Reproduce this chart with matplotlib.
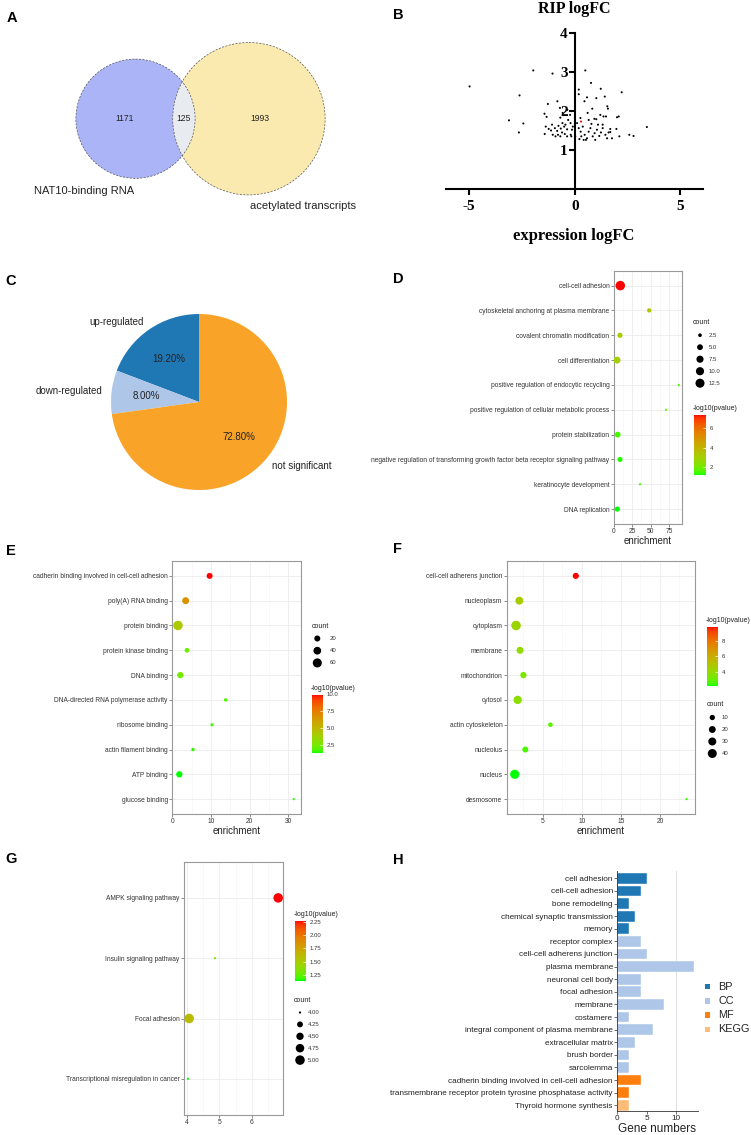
import numpy as np
import matplotlib
matplotlib.use("Agg")
import matplotlib.pyplot as plt
from matplotlib.patches import Circle
from matplotlib.colors import ListedColormap, Normalize
from matplotlib.cm import ScalarMappable
from matplotlib.ticker import AutoMinorLocator

plt.rcParams["font.family"] = ["Liberation Sans", "DejaVu Sans"]
plt.rcParams["axes.unicode_minus"] = False

# ---- data ----
# A: venn
venn_sizes = [1171, 125, 1993]
venn_labels = ["NAT10-binding RNA", "acetylated transcripts"]

# B: RIP logFC vs expression logFC
rip_x = [-4.97, -1.96, -1.05, -2.61, -1.27, -3.11, -2.43, -2.64, -1.43, -1.33, -1.37, -1.42, -1.23,
         -0.82, -0.70, -1.07, -0.94, -1.12, -1.04, -0.83, -0.77, -0.66, -0.58, -0.50, -0.44, -0.36,
         -0.60, -0.47, -0.31, -0.20, -0.22, -0.35, -0.68, -0.57, -0.79, -0.36, -0.19, -0.91, -0.68,
         -0.13, -0.09, -0.16,
         0.11, 0.19, 0.28, 0.38, 0.47, 0.58, 0.66, 0.74, 0.85, 0.94, 1.05, 1.16, 1.24, 1.32, 1.45,
         1.53, 0.97, 0.42, 0.22, 0.53, 0.31, 0.79, 1.10, 1.60, 0.66,
         0.50, 0.77, 0.19, 0.19, 1.23, 2.22, 0.58, 1.02, 0.46, 1.42, 1.54, 1.57, 0.83, 0.61, 1.21,
         1.36, 1.48, 2.00, 2.08, 0.93, 1.02, 0.27, 3.41, 2.58, 2.78, 2.11, 1.76, 1.68, 1.68, 1.97,
         1.32]
rip_y = [2.63, 3.04, 2.96, 2.40, 2.18, 1.76, 1.68, 1.45, 1.93, 1.85, 1.60, 1.41, 1.54,
         2.25, 2.08, 1.65, 1.56, 1.50, 1.39, 1.49, 1.62, 1.55, 1.69, 1.60, 1.65, 1.53,
         1.45, 1.41, 1.77, 1.69, 1.90, 2.03, 1.83, 1.95, 1.39, 1.35, 1.39, 1.35, 1.35,
         1.52, 1.60, 1.35,
         1.69, 1.56, 1.47, 1.60, 1.39, 1.30, 1.47, 1.56, 1.35, 1.43, 1.52, 1.36, 1.45, 1.56, 1.39,
         1.30, 1.26, 1.26, 1.28, 1.26, 1.35, 1.67, 1.65, 1.45, 1.77,
         3.04, 2.72, 2.55, 2.43, 2.57, 2.48, 2.35, 2.33, 2.25, 2.37, 2.12, 2.06, 2.06, 1.95, 1.90,
         1.86, 1.86, 1.84, 1.86, 1.80, 1.79, 1.82, 1.59, 1.39, 1.36, 1.35, 1.30, 1.54, 1.46, 1.54,
         1.65]
rip_hl_x = [0.30, 0.03]
rip_hl_y = [1.73, 1.35]

# C: pie
pie_labels = ["up-regulated", "down-regulated", "not significant"]
pie_values = [19.2, 8.0, 72.8]
pie_colors = ["#1f77b4", "#aec7e8", "#f9a328"]

# D: GO BP bubble
d_terms = ["cell-cell adhesion", "cytoskeletal anchoring at plasma membrane",
           "covalent chromatin modification", "cell differentiation",
           "positive regulation of endocytic recycling",
           "positive regulation of cellular metabolic process", "protein stabilization",
           "negative regulation of transforming growth factor beta receptor signaling pathway",
           "keratinocyte development", "DNA replication"]
d_enrich = [8.9, 48.0, 8.5, 4.5, 88.0, 70.7, 5.4, 8.5, 35.5, 4.9]
d_count = [14, 3, 4, 7, 2, 2, 5, 4, 2, 4]
d_logp = [7.33, 3.4, 3.1, 3.0, 1.6, 1.75, 1.5, 1.35, 1.5, 1.21]

# E: GO MF bubble
e_terms = ["cadherin binding involved in cell-cell adhesion", "poly(A) RNA binding",
           "protein binding", "protein kinase binding", "DNA binding",
           "DNA-directed RNA polymerase activity", "ribosome binding",
           "actin filament binding", "ATP binding", "glucose binding"]
e_enrich = [9.65, 3.45, 1.47, 3.8, 2.07, 13.8, 10.26, 5.35, 1.81, 31.4]
e_count = [20, 30, 68, 10, 23, 4, 3, 4, 23, 2]
e_logp = [9.9, 6.6, 4.2, 2.3, 2.5, 1.8, 1.6, 1.5, 1.24, 1.4]

# F: GO CC bubble
f_terms = ["cell-cell adherens junction", "nucleoplasm", "cytoplasm", "membrane",
           "mitochondrion", "cytosol", "actin cytoskeleton", "nucleolus", "nucleus",
           "desmosome"]
f_enrich = [9.23, 2.0, 1.58, 2.09, 2.52, 1.79, 5.98, 2.77, 1.41, 23.4]
f_count = [15, 29, 46, 21, 16, 33, 7, 14, 42, 2]
f_logp = [9.78, 4.6, 4.2, 4.0, 3.4, 3.8, 2.9, 2.6, 2.22, 2.5]

# G: KEGG bubble
g_terms = ["AMPK signaling pathway", "Insulin signaling pathway", "Focal adhesion",
           "Transcriptional misregulation in cancer"]
g_enrich = [6.82, 4.86, 4.06, 4.02]
g_count = [5, 4, 5, 4]
g_logp = [2.27, 1.3, 1.6, 1.14]

# H: gene numbers per term
h_terms = ["cell adhesion", "cell-cell adhesion", "bone remodeling",
           "chemical synaptic transmission", "memory", "receptor complex",
           "cell-cell adherens junction", "plasma membrane", "neuronal cell body",
           "focal adhesion", "membrane", "costamere", "integral component of plasma membrane",
           "extracellular matrix", "brush border", "sarcolemma",
           "cadherin binding involved in cell-cell adhesion",
           "transmembrane receptor protein tyrosine phosphatase activity",
           "Thyroid hormone synthesis"]
h_counts = [5, 4, 2, 3, 2, 4, 5, 13, 4, 4, 8, 2, 6, 3, 2, 2, 4, 2, 2]
h_groups = ["BP"] * 5 + ["CC"] * 11 + ["MF"] * 2 + ["KEGG"]
h_group_names = ["BP", "CC", "MF", "KEGG"]
h_group_colors = ["#1f77b4", "#aec7e8", "#ff7f0e", "#ffbb78"]

# ---- helpers ----
W, H = 751, 1135
fig = plt.figure(figsize=(W / 100, H / 100), dpi=100)


def frect(x0, y0, x1, y1):
    return [x0 / W, 1 - y1 / H, (x1 - x0) / W, (y1 - y0) / H]


def ptext(x, y, s, **kw):
    kw.setdefault("va", "center")
    return fig.text(x / W, 1 - y / H, s, **kw)


# ggplot-like green -> red gradient interpolated in Lab
_M = np.array([[0.4124, 0.3576, 0.1805], [0.2126, 0.7152, 0.0722], [0.0193, 0.1192, 0.9505]])
_WHITE = np.array([0.95047, 1.0, 1.08883])


def to_lab(rgb):
    c = np.asarray(rgb, float)
    lin = np.where(c <= 0.04045, c / 12.92, ((c + 0.055) / 1.055) ** 2.4)
    xyz = _M @ lin / _WHITE
    f = np.where(xyz > 0.008856, np.cbrt(xyz), 7.787 * xyz + 16 / 116)
    return np.array([116 * f[1] - 16, 500 * (f[0] - f[1]), 200 * (f[1] - f[2])])


def from_lab(lab):
    fy = (lab[0] + 16) / 116
    f = np.array([fy + lab[1] / 500, fy, fy - lab[2] / 200])
    xyz = np.where(f ** 3 > 0.008856, f ** 3, (f - 16 / 116) / 7.787) * _WHITE
    lin = np.clip(np.linalg.solve(_M, xyz), 0, 1)
    c = np.where(lin <= 0.0031308, 12.92 * lin, 1.055 * lin ** (1 / 2.4) - 0.055)
    return np.clip(c, 0, 1)


lab_lo, lab_hi = to_lab([0, 1, 0]), to_lab([1, 0, 0])
gg_cmap = ListedColormap([from_lab(lab_lo + t * (lab_hi - lab_lo)) for t in np.linspace(0, 1, 128)])

PX = 0.72  # points per pixel


def size_of(vals, crange, dmin=2.2, dmax=9.5):
    v = np.asarray(vals, float)
    t = np.clip((v - crange[0]) / (crange[1] - crange[0]), 0, 1)
    return ((dmin + (dmax - dmin) * np.sqrt(t)) * PX) ** 2


ov = fig.add_axes([0, 0, 1, 1], zorder=10)
ov.set_xlim(0, W)
ov.set_ylim(H, 0)
ov.axis("off")
ov.patch.set_alpha(0)


def bubble_panel(box, terms, enrich, count, logp, xlim, xticks, xlabel=True):
    ax = fig.add_axes(frect(*box))
    y = np.arange(len(terms))
    crange = (min(count), max(count))
    ax.scatter(enrich, y, s=size_of(count, crange), c=logp, cmap=gg_cmap,
               vmin=min(logp), vmax=max(logp), edgecolors="none", zorder=3)
    ax.set_xlim(*xlim)
    ax.set_ylim(len(terms) - 0.4, -0.6)
    ax.set_xticks(xticks)
    ax.xaxis.set_minor_locator(AutoMinorLocator(2))
    ax.set_yticks(y)
    ax.set_yticklabels(terms)
    ax.grid(True, which="major", color="#ebebeb", lw=0.6, zorder=0)
    ax.grid(True, which="minor", axis="x", color="#f4f4f4", lw=0.4, zorder=0)
    ax.set_axisbelow(True)
    ax.tick_params(which="major", length=2, width=0.4, color="#333333", labelsize=4.8,
                   labelcolor="#333333", pad=1.2)
    ax.tick_params(which="minor", length=0)
    for sp in ax.spines.values():
        sp.set_color("#999999")
        sp.set_linewidth(0.8)
    if xlabel:
        ax.set_xlabel("enrichment", fontsize=7, labelpad=0.5, color="#222222")
    return crange


def colorbar_px(box, vals, ticks, fmt, title):
    cax = fig.add_axes(frect(*box))
    cb = fig.colorbar(ScalarMappable(Normalize(min(vals), max(vals)), gg_cmap), cax=cax)
    cb.outline.set_visible(False)
    cb.set_ticks(ticks)
    cb.set_ticklabels([fmt.format(t) for t in ticks])
    cax.tick_params(length=2, width=0.5, color="white", direction="in", labelsize=4.3,
                    labelcolor="#333333", pad=2.5)
    ptext(box[0] - 1, box[1] - 6, title, fontsize=5, color="#222222")


def size_legend(tx, ty, dx, lx, step, values, fmt, crange):
    ptext(tx, ty, "count", fontsize=5, color="#222222")
    ys = ty + 12.5 + step * np.arange(len(values))
    ov.scatter([dx] * len(values), ys, s=size_of(values, crange), c="black", edgecolors="none")
    for v, yy in zip(values, ys):
        ptext(lx, yy, fmt.format(v), fontsize=4.3, color="#333333")


# ---- panel letters ----
for letter, lx, ly in [("A", 11.5, 18), ("B", 398, 15), ("C", 10.5, 281), ("D", 398, 279),
                       ("E", 10.5, 551), ("F", 397, 549), ("G", 11, 859), ("H", 398, 860.5)]:
    ptext(lx, ly, letter, fontsize=10.5, fontweight="bold", ha="center")

# ---- A: venn ----
va = fig.add_axes(frect(0, 30, 375, 230))
va.set_xlim(0, 375)
va.set_ylim(230, 30)
va.axis("off")
k = 1.656
r_left = k * np.sqrt(venn_sizes[0] + venn_sizes[1])
r_right = k * np.sqrt(venn_sizes[2] + venn_sizes[1])
cy = 118.7
cx_left = 135.5
cx_right = cx_left + r_left + r_right - 22.4
c_left = Circle((cx_left, cy), r_left, fc="#aab4f6", ec="none")
c_right = Circle((cx_right, cy), r_right, fc="#faeaaf", ec="none")
va.add_patch(c_left)
va.add_patch(c_right)
lens = Circle((cx_right, cy), r_right, fc="#e8ecf0", ec="none")
va.add_patch(lens)
lens.set_clip_path(c_left)
for cx, r in [(cx_left, r_left), (cx_right, r_right)]:
    va.add_patch(Circle((cx, cy), r, fc="none", ec="#555555", lw=0.5, ls=(0, (3, 2))))
x_l_edge, x_r_edge = cx_right - r_right, cx_left + r_left
va.text((cx_left - r_left + x_l_edge) / 2, cy, f"{venn_sizes[0]}", fontsize=6.2, ha="center", va="center", color="#222222")
va.text((x_l_edge + x_r_edge) / 2, cy, f"{venn_sizes[1]}", fontsize=6.2, ha="center", va="center", color="#222222")
va.text((x_r_edge + cx_right + r_right) / 2, cy, f"{venn_sizes[2]}", fontsize=6.2, ha="center", va="center", color="#222222")
va.text(84, 191, venn_labels[0], fontsize=8, ha="center", va="center", color="#222222")
va.text(303, 206, venn_labels[1], fontsize=8, ha="center", va="center", color="#222222")

# ---- B: scatter ----
serif = {"family": "Liberation Serif", "weight": "bold"}
bx = fig.add_axes(frect(445.7, 33, 702.7, 189))
bx.scatter(rip_x, rip_y, s=2.2, c="black", edgecolors="none")
bx.scatter(rip_hl_x, rip_hl_y, s=2.2, c="red", edgecolors="none")
bx.set_xlim(-6.1, 6.05)
bx.set_ylim(0, 4)
bx.spines["left"].set_position(("data", 0))
bx.spines["bottom"].set_position(("data", 0))
bx.spines["top"].set_visible(False)
bx.spines["right"].set_visible(False)
for sp in ("left", "bottom"):
    bx.spines[sp].set_linewidth(1.5)
bx.set_xticks([-5, 0, 5])
bx.set_yticks([1, 2, 3, 4])
bx.tick_params(axis="both", length=4.5, width=1.5, labelsize=11, pad=0.5)
bx.tick_params(axis="x", pad=3.5)
for lab in bx.get_xticklabels() + bx.get_yticklabels():
    lab.set_fontfamily("Liberation Serif")
    lab.set_fontweight("bold")
ptext(574, 9, "RIP logFC", fontsize=11.5, ha="center", **serif)
ptext(574, 236, "expression logFC", fontsize=12, ha="center", **serif)

# ---- C: pie ----
cx_ax = fig.add_axes(frect(111, 314, 287, 490))
cx_ax.pie(pie_values, labels=pie_labels, colors=pie_colors, startangle=90,
          autopct="%.2f%%", pctdistance=0.6, labeldistance=1.1,
          textprops={"fontsize": 7, "color": "#222222"},
          wedgeprops={"linewidth": 0})
cx_ax.set_xlim(-1, 1)
cx_ax.set_ylim(-1, 1)
cx_ax.set_aspect("equal")

# ---- D ----
d_cr = bubble_panel((613.7, 270.7, 682.3, 524), d_terms, d_enrich, d_count, d_logp,
                    (0, 92.7), [0, 25, 50, 75])
size_legend(693, 322.7, 700, 709, 12, [2.5, 5.0, 7.5, 10.0, 12.5], "{:.1f}", d_cr)
colorbar_px((694, 415, 706, 475), d_logp, [2, 4, 6], "{:g}", "-log10(pvalue)")

# ---- E ----
e_cr = bubble_panel((172.3, 561, 300.7, 814), e_terms, e_enrich, e_count, e_logp,
                    (0, 33.2), [0, 10, 20, 30])
size_legend(311.7, 626, 317.3, 330, 12.2, [20, 40, 60], "{:g}", e_cr)
colorbar_px((311.7, 694.3, 323.3, 753.3), e_logp, [2.5, 5.0, 7.5, 10.0], "{:.1f}", "-log10(pvalue)")

# ---- F ----
f_cr = bubble_panel((506.7, 561, 695, 814), f_terms, f_enrich, f_count, f_logp,
                    (0.38, 24.5), [5, 10, 15, 20])
colorbar_px((706.7, 626.7, 718.3, 686), f_logp, [4, 6, 8], "{:g}", "-log10(pvalue)")
size_legend(706.7, 705, 712.3, 721.7, 12, [10, 20, 30, 40], "{:g}", f_cr)

# ---- G ----
g_cr = bubble_panel((183.7, 861.7, 282.7, 1115), g_terms, g_enrich, g_count, g_logp,
                    (3.89, 6.96), [4, 5, 6], xlabel=False)
colorbar_px((294.7, 921, 306, 980.7), g_logp, [1.25, 1.5, 1.75, 2.0, 2.25], "{:.2f}", "-log10(pvalue)")
size_legend(294, 1000, 300, 308.3, 11.9, [4.0, 4.25, 4.5, 4.75, 5.0], "{:.2f}", g_cr)

# ---- H: bars ----
hx = fig.add_axes(frect(617.3, 870.5, 697.7, 1111))
hy = np.arange(len(h_terms))
color_of = dict(zip(h_group_names, h_group_colors))
hx.axvline(10, color="#dddddd", lw=0.7, zorder=0)
hx.barh(hy, h_counts, height=0.85, color=[color_of[g] for g in h_groups],
        edgecolor="white", linewidth=0.3, zorder=2)
hx.set_xlim(0, 13.65)
hx.set_ylim(len(h_terms) - 0.55, -0.62)
hx.set_yticks(hy)
hx.set_yticklabels(h_terms)
hx.set_xticks([0, 5, 10])
hx.spines["top"].set_visible(False)
hx.spines["right"].set_visible(False)
for sp in ("left", "bottom"):
    hx.spines[sp].set_color("#333333")
    hx.spines[sp].set_linewidth(0.6)
hx.tick_params(length=2, width=0.5, color="#333333", labelsize=5.9, labelcolor="#222222", pad=1.2)
hx.set_xlabel("Gene numbers", fontsize=8.5, labelpad=0.5, color="#222222")
leg_y = 986.7 + 14.2 * np.arange(len(h_group_names))
ov.scatter([707.3] * len(h_group_names), leg_y, marker="s", s=(5.5 * PX) ** 2,
           c=h_group_colors, edgecolors="none")
for name, yy in zip(h_group_names, leg_y):
    ptext(718.3, yy, name, fontsize=7.8, color="#222222")

fig.savefig("out.png", dpi=100)
